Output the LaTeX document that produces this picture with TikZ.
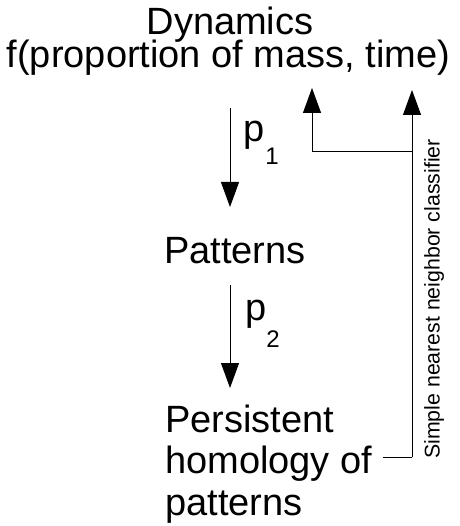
\documentclass[tikz,border=0pt]{standalone}
\usepackage{fontspec}
\setmainfont{Liberation Sans}
\usetikzlibrary{arrows.meta}
\tikzset{
  big/.style={inner sep=0pt, anchor=base, font=\fontsize{38}{38}\selectfont},
  small/.style={inner sep=0pt, anchor=base, font=\fontsize{21.3}{21.3}\selectfont},
  conn/.style={line width=1pt, draw=black},
  arr/.style={conn, -{Triangle[length=25pt,width=18pt]}}
}
\begin{document}
\begin{tikzpicture}[x=1pt,y=-1pt]
\useasboundingbox (0,0) rectangle (459,526);
% text nodes
\node[big] (dyn1) at (230,35) {Dynamics};
\node[big] (dyn2) at (228.5,68) {f(proportion of mass, time)};
\node[big] (pat) at (235,263) {Patterns};
\node[big, anchor=base west] (pers1) at (165,432) {Persistent};
\node[big, anchor=base west] (pers2) at (165,473) {homology of};
\node[big, anchor=base west] (pers3) at (165,515) {patterns};
\node[big, anchor=base west] (lp1) at (243,142) {p\kern1pt\raisebox{-23pt}{\fontsize{24}{24}\selectfont 1}};
\node[big, anchor=base west] (lp2) at (245,320) {p\kern0pt\raisebox{-27pt}{\fontsize{24}{24}\selectfont 2}};
\node[small, rotate=90] (cls) at (439.5,299) {Simple nearest neighbor classifier};
% coordinates
\coordinate (a1s) at (230,108);
\coordinate (a1e) at (230,207);
\coordinate (a2s) at (230,285);
\coordinate (a2e) at (230,388);
\coordinate (h0) at (383,457);
\coordinate (h1) at (412,457);
\coordinate (j) at (412,152);
\coordinate (rt) at (412,90);
\coordinate (lb) at (312,152);
\coordinate (lt) at (312,88);
% connectors
\draw[arr] (a1s) -- (a1e);
\draw[arr] (a2s) -- (a2e);
\draw[conn] (h0) -- (h1);
\draw[arr] (h1) -- (rt);
\draw[arr] (j) -- (lb) -- (lt);
\end{tikzpicture}
\end{document}
